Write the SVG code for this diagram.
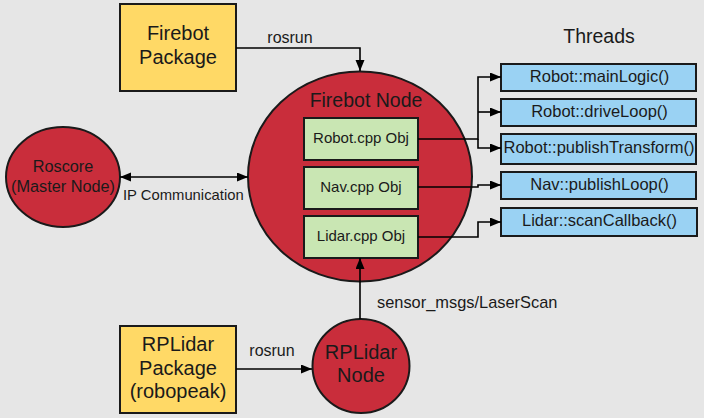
<svg xmlns="http://www.w3.org/2000/svg" width="704" height="418" viewBox="0 0 704 418">
<defs>
<marker id="ah" markerWidth="12" markerHeight="10" refX="11" refY="4.5" orient="auto-start-reverse" markerUnits="userSpaceOnUse">
<path d="M0,0 L11,4.5 L0,9 z" fill="#000"/>
</marker>
<style>
.t{font-family:"Liberation Sans",Arial,sans-serif;fill:#1a1a1a;text-anchor:middle}
.pkg{fill:#ffd966;stroke:#1a1a1a;stroke-width:2}
.node{fill:#c92d3b;stroke:#1a1a1a;stroke-width:2}
.obj{fill:#c9e6b3;stroke:#1a1a1a;stroke-width:2}
.thr{fill:#9ad2f3;stroke:#1a1a1a;stroke-width:2}
.c{fill:none;stroke:#000;stroke-width:1.6;marker-end:url(#ah)}
.lbl{font-family:"Liberation Sans",Arial,sans-serif;fill:#1a1a1a}
</style>
</defs>
<rect width="704" height="418" fill="#e6e6e6"/>

<g id="firebot-node">
<ellipse class="node" cx="360" cy="176.5" rx="112" ry="105"/>
<text class="t" x="366" y="107" font-size="19.5">Firebot Node</text>
</g>
<g id="robot-obj">
<rect class="obj" x="304" y="118" width="114" height="42"/>
<text class="t" x="361" y="143" font-size="15">Robot.cpp Obj</text>
</g>
<g id="nav-obj">
<rect class="obj" x="304" y="167" width="114" height="42"/>
<text class="t" x="361" y="192" font-size="15">Nav.cpp Obj</text>
</g>
<g id="lidar-obj">
<rect class="obj" x="304" y="216" width="114" height="42"/>
<text class="t" x="361" y="241" font-size="15">Lidar.cpp Obj</text>
</g>

<g id="firebot-package">
<rect class="pkg" x="120" y="4" width="116" height="87"/>
<text class="t" x="178" y="40" font-size="20">Firebot</text>
<text class="t" x="178" y="64" font-size="20">Package</text>
</g>

<g id="roscore">
<ellipse class="node" cx="63" cy="177" rx="57" ry="50"/>
<text class="t" x="63" y="172" font-size="16.3">Roscore</text>
<text class="t" x="63" y="192" font-size="16.3">(Master Node)</text>
</g>

<g id="rplidar-package">
<rect class="pkg" x="120" y="326" width="116" height="87"/>
<text class="t" x="178" y="351" font-size="20">RPLidar</text>
<text class="t" x="178" y="375" font-size="20">Package</text>
<text class="t" x="178" y="398" font-size="20">(robopeak)</text>
</g>

<g id="rplidar-node">
<ellipse class="node" cx="361" cy="366" rx="48.5" ry="47"/>
<text class="t" x="361" y="359" font-size="20">RPLidar</text>
<text class="t" x="361" y="382" font-size="20">Node</text>
</g>

<g id="threads">
<text class="t" x="599" y="43" font-size="19.5">Threads</text>
</g>
<g id="t-mainlogic">
<rect class="thr" x="501" y="64" width="195" height="27"/>
<text class="t" x="599.5" y="82" font-size="16.5">Robot::mainLogic()</text>
</g>
<g id="t-driveloop">
<rect class="thr" x="501" y="99" width="195" height="27"/>
<text class="t" x="599.5" y="117" font-size="16.5">Robot::driveLoop()</text>
</g>
<g id="t-publishtransform">
<rect class="thr" x="501" y="134" width="195" height="30"/>
<text class="t" x="599" y="153" font-size="16.5">Robot::publishTransform()</text>
</g>
<g id="t-publishloop">
<rect class="thr" x="501" y="172" width="195" height="27"/>
<text class="t" x="599.5" y="190" font-size="16.5">Nav::publishLoop()</text>
</g>
<g id="t-scancallback">
<rect class="thr" x="501" y="208" width="196" height="28"/>
<text class="t" x="599.5" y="225.5" font-size="16.5">Lidar::scanCallback()</text>
</g>

<g id="connectors">
<path class="c" d="M236,48 H360 V71"/>
<path class="c" d="M120,177 H248" style="marker-start:url(#ah)"/>
<path class="c" d="M360,319 V258"/>
<path class="c" d="M236,369 H312"/>
<path class="c" d="M418,139 H478 V77 H501"/>
<path class="c" d="M478,112 H501"/>
<path class="c" d="M478,139 V148 H501"/>
<path class="c" d="M418,187 H478 V185 H501"/>
<path class="c" d="M418,237 H478 V222 H501"/>
<text class="lbl" x="290" y="43" font-size="16" text-anchor="middle">rosrun</text>
<text class="lbl" x="123" y="200" font-size="14.8">IP Communication</text>
<text class="lbl" x="272" y="356" font-size="16" text-anchor="middle">rosrun</text>
<text class="lbl" x="377" y="308" font-size="16.4">sensor_msgs/LaserScan</text>
</g>
</svg>
